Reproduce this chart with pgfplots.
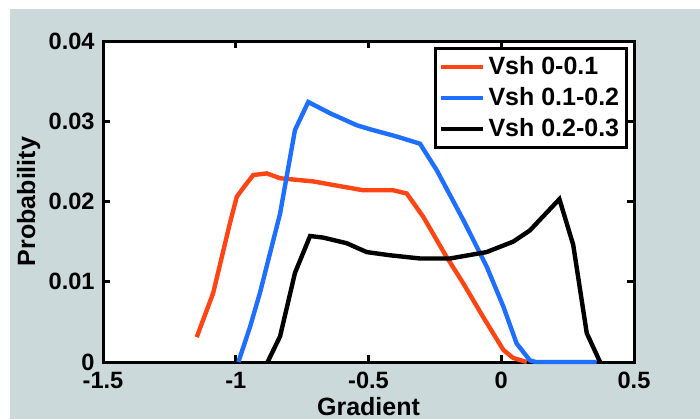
\documentclass[border=0pt]{standalone}
\usepackage{pgfplots}
\pgfplotsset{compat=1.18}
\usepackage{fontspec}
\setmainfont{Liberation Sans}

\definecolor{figbg}{RGB}{204,217,218}
\definecolor{vred}{RGB}{255,69,20}
\definecolor{vblue}{RGB}{30,110,255}

\begin{document}
\begin{tikzpicture}
\fill[white] (0,0) rectangle (350pt,209.5pt);
\useasboundingbox (0,0) rectangle (350pt,209.5pt);
\fill[figbg] (5pt,0) rectangle (350pt,205pt);
\begin{axis}[
  at={(51.5pt,28.5pt)}, anchor=south west,
  scale only axis, width=265.5pt, height=160.5pt,
  xmin=-1.5, xmax=0.5, ymin=0, ymax=0.04,
  xtick={-1.5,-1,-0.5,0,0.5},
  xticklabels={-1.5,-1,-0.5,0,0.5},
  ytick={0,0.01,0.02,0.03,0.04},
  yticklabels={0,0.01,0.02,0.03,0.04},
  scaled y ticks=false, scaled x ticks=false,
  tick align=inside,
  major tick length=3.5pt,
  every tick/.style={black, line width=1.5pt},
  axis line style={line width=1.5pt},
  axis background/.style={fill=white},
  tick label style={font=\fontsize{11.8}{14}\selectfont\bfseries, inner sep=0pt},
  yticklabel style={xshift=-4pt},
  xticklabel style={yshift=-5pt},
  every axis x label/.style={at={(axis description cs:0.5,-0.166)}, anchor=base},
  every axis y label/.style={at={(axis description cs:-0.128,0.5)}, anchor=base, rotate=90},
  label style={font=\fontsize{12.5}{14}\selectfont\bfseries},
  xlabel={Gradient}, ylabel={Probability},
  clip=false,
  legend cell align=left,
  legend style={at={(rel axis cs:0.988,0.982)}, anchor=north east,
    draw=black, line width=1.5pt, fill=white,
    font=\fontsize{12.5}{14}\selectfont\bfseries,
    inner xsep=2pt, inner ysep=2pt, row sep=1pt,
    nodes={inner xsep=1.5pt}},
  legend image code/.code={\draw[#1] (0pt,0pt) -- (21pt,0pt);},
]
\addplot[vred, line width=2.2pt] coordinates {
(-1.147,0.0031) (-1.085,0.0086) (-1.022,0.0173) (-0.996,0.0206) (-0.96,0.0222)
(-0.934,0.0233) (-0.883,0.0235) (-0.833,0.0229) (-0.708,0.0225) (-0.52,0.0214)
(-0.407,0.0214) (-0.356,0.0210) (-0.294,0.0181) (-0.206,0.0131) (-0.143,0.0098)
(-0.068,0.0056) (0.008,0.0015) (0.045,0.0005) (0.096,0)};
\addlegendentry{Vsh 0-0.1}
\addplot[vblue, line width=2.2pt] coordinates {
(-0.99,0) (-0.946,0.0044) (-0.909,0.0086) (-0.833,0.0185) (-0.777,0.0289)
(-0.727,0.0324) (-0.645,0.0310) (-0.544,0.0295) (-0.494,0.0290) (-0.394,0.0281)
(-0.306,0.0272) (-0.243,0.0239) (-0.143,0.0177) (-0.055,0.0119) (0.008,0.0069)
(0.058,0.0023) (0.108,0.0002) (0.13,0) (0.359,0)};
\addlegendentry{Vsh 0.1-0.2}
\addplot[black, line width=2.2pt] coordinates {
(-0.88,0) (-0.833,0.0032) (-0.777,0.0111) (-0.720,0.0157) (-0.670,0.0155)
(-0.582,0.0148) (-0.507,0.0137) (-0.419,0.0133) (-0.306,0.0129) (-0.193,0.0129)
(-0.055,0.0137) (0.045,0.0150) (0.108,0.0164) (0.219,0.0203) (0.271,0.0146)
(0.322,0.0036) (0.372,0)};
\addlegendentry{Vsh 0.2-0.3}
\end{axis}
\end{tikzpicture}
\end{document}
